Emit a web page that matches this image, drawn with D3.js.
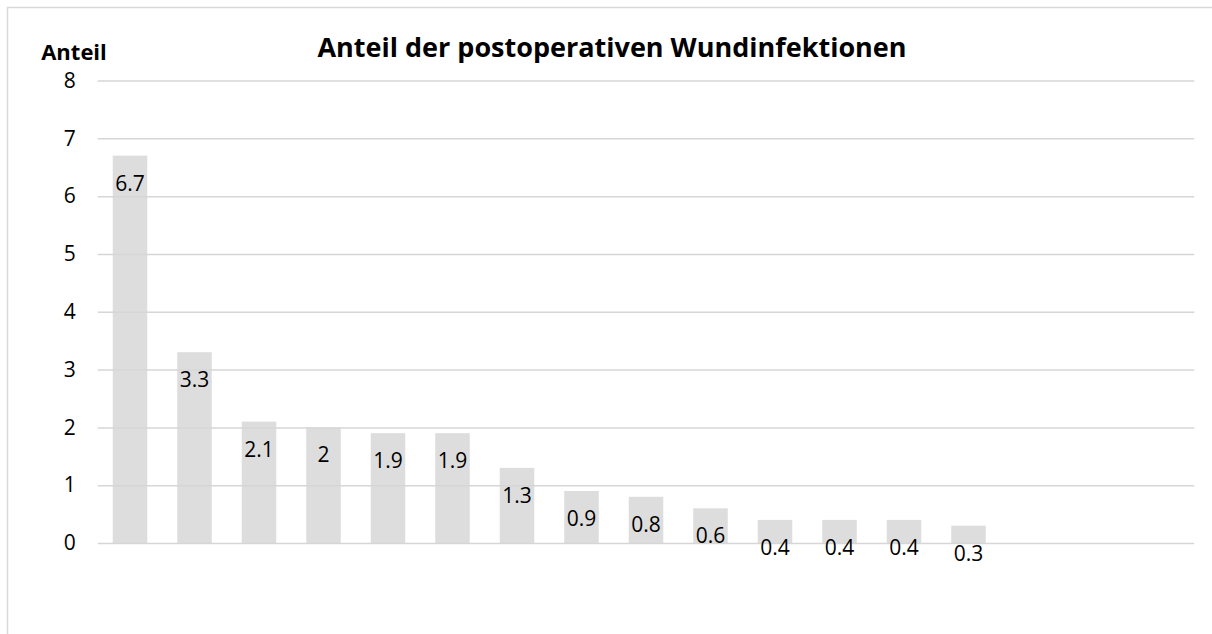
<!DOCTYPE html>
<html>
<head>
<meta charset="utf-8">
<script src="https://cdn.jsdelivr.net/npm/d3@7"></script>
<style>
  html, body { margin: 0; padding: 0; background: #fff; }
  svg { display: block; font-family: "Open Sans", "Noto Sans", sans-serif; }
</style>
</head>
<body>
<svg id="chart" width="1212" height="634"></svg>
<script>
// Share of postoperative wound infections per category (17 slots, last three empty)
const categories = d3.range(1, 18).map(String);
const values = [6.7, 3.3, 2.1, 2, 1.9, 1.9, 1.3, 0.9, 0.8, 0.6, 0.4, 0.4, 0.4, 0.3, null, null, null];
const yTicks = [0, 1, 2, 3, 4, 5, 6, 7, 8];
const titleText = "Anteil der postoperativen Wundinfektionen";
const yAxisTitle = "Anteil";

const svg = d3.select("#chart");
const plotLeft = 97.75, slot = 64.5;

// chart frame (left and top edges visible; right/bottom run off the canvas)
svg.append("rect")
  .attr("x", 7.5).attr("y", 7.5)
  .attr("width", 1240).attr("height", 700)
  .attr("fill", "#fff")
  .attr("stroke", "#d9d9d9").attr("stroke-width", 1.5);

const x = d3.scaleBand()
  .domain(categories)
  .range([plotLeft, plotLeft + categories.length * slot])
  .paddingInner(0.465)
  .paddingOuter(0.2325);

const y = d3.scaleLinear().domain([0, 8]).range([543, 80.5]);

const data = categories.map((c, i) => ({ c, v: values[i] })).filter(d => d.v != null);

// bars
svg.append("g").selectAll("rect")
  .data(data).join("rect")
  .attr("x", d => x(d.c))
  .attr("y", d => y(d.v))
  .attr("width", x.bandwidth())
  .attr("height", d => y(0) - y(d.v))
  .attr("fill", "#dddddd");

// horizontal gridlines + tick labels
const yAxis = d3.axisLeft(y)
  .tickValues(yTicks)
  .tickSize(-(x.range()[1] - x.range()[0]))
  .tickFormat(d3.format("d"))
  .tickPadding(22);
const gAxis = svg.append("g")
  .attr("transform", `translate(${x.range()[0]},0)`)
  .call(yAxis);
gAxis.select(".domain").remove();
gAxis.selectAll(".tick line").attr("stroke", "#d6d6d6").attr("stroke-width", 1.5);
gAxis.selectAll(".tick text")
  .attr("fill", "#000")
  .attr("font-size", 21)
  .attr("font-family", "'Open Sans', sans-serif");

// value labels (inside end)
svg.append("g").selectAll("text")
  .data(data).join("text")
  .attr("x", d => x(d.c) + x.bandwidth() / 2)
  .attr("y", d => y(d.v) + 35)
  .attr("text-anchor", "middle")
  .attr("font-size", 21)
  .attr("fill", "#000")
  .text(d => d.v);

// titles
svg.append("text")
  .attr("x", 612).attr("y", 57)
  .attr("text-anchor", "middle")
  .attr("font-size", 27)
  .attr("font-weight", "bold")
  .attr("fill", "#000")
  .text(titleText);

svg.append("text")
  .attr("x", 74).attr("y", 60)
  .attr("text-anchor", "middle")
  .attr("font-size", 22)
  .attr("font-weight", "bold")
  .attr("fill", "#000")
  .text(yAxisTitle);
</script>
</body>
</html>
